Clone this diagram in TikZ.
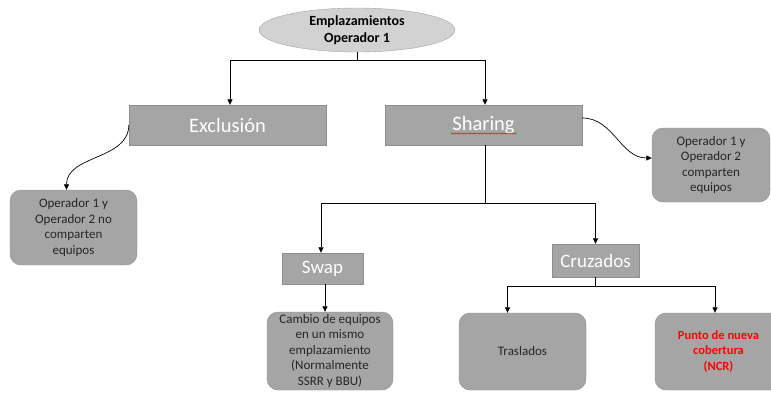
\documentclass[tikz,border=0pt]{standalone}
\usepackage{fontspec}
\setmainfont{Carlito}
\usetikzlibrary{shapes.geometric,arrows.meta,decorations.pathmorphing}
\definecolor{boxfill}{HTML}{A5A5A5}
\definecolor{boxline}{HTML}{8E8E8E}
\definecolor{rootfill}{HTML}{D2D2D2}
\definecolor{rootline}{HTML}{A3A3A3}
\definecolor{leaftext}{HTML}{262626}

\begin{document}
\begin{tikzpicture}[x=1pt,y=-1pt,
    arr/.style={-{Triangle[length=5.5pt,width=5pt]}, line width=0.7pt},
    link/.style={line width=0.7pt},
    title/.style={rectangle, draw=boxline, fill=boxfill, text=white, inner sep=0pt},
    leaf/.style={rectangle, rounded corners=11pt, draw=boxline, fill=boxfill, text=leaftext,
        align=center, inner sep=0pt, font=\fontsize{13}{15.5}\selectfont}]
    \useasboundingbox (0,0) rectangle (771,392);
    \clip (0,0) rectangle (771,392);

    % root
    \node[ellipse, draw=rootline, fill=rootfill, minimum width=196pt, minimum height=44pt,
        inner sep=0pt, align=center, font=\bfseries\fontsize{14}{16.5}\selectfont]
        (root) at (357,30) {Emplazamientos\\Operador 1};

    % first level
    \node[title, minimum width=197pt, minimum height=40pt, font=\fontsize{20.5}{24}\selectfont]
        (excl) at (227.5,125) {Exclusión};
    \node[title, minimum width=197pt, minimum height=40pt, font=\fontsize{20.5}{24}\selectfont]
        (shar) at (483.5,125) {Sharing};
    \draw[red, line width=0.4pt, decorate, decoration={snake, amplitude=0.6pt, segment length=2.2pt}]
        (451,133.5) -- (517,133.5);

    \node[leaf, minimum width=127pt, minimum height=75pt] (nocomp) at (73.5,227.5)
        {Operador 1 y\\Operador 2 no\\comparten\\equipos};
    \node[leaf, minimum width=118pt, minimum height=74pt] (comp) at (711,165)
        {Operador 1 y\\Operador 2\\comparten\\equipos};

    % second level
    \node[title, minimum width=81pt, minimum height=31pt, font=\fontsize{19}{22}\selectfont]
        (swap) at (322.5,268.5) {Swap};
    \node[title, minimum width=87pt, minimum height=33pt, font=\fontsize{19}{22}\selectfont]
        (cruz) at (595.5,260.5) {Cruzados};

    \node[leaf, minimum width=126pt, minimum height=78pt] (cambio) at (330,351)
        {Cambio de equipos\\en un mismo\\emplazamiento\\(Normalmente\\SSRR y BBU)};
    \node[leaf, minimum width=127pt, minimum height=77pt] (trasl) at (522.5,351.5) {Traslados};
    \node[leaf, minimum width=127pt, minimum height=77pt, text=red,
        font=\bfseries\fontsize{12.5}{15.5}\selectfont] (ncr) at (718.5,351.5)
        {Punto de nueva\\cobertura\\(NCR)};

    % connectors
    \coordinate (j1) at (357,60);
    \draw[link] (root.south) -- (j1);
    \draw[arr] (j1) -| ([xshift=2.5pt]excl.north);
    \draw[arr] (j1) -| ([xshift=1.5pt]shar.north);

    \draw[arr] (excl.west) to[out=-90,in=90] ([xshift=-7pt]nocomp.north);
    \draw[arr] ([yshift=7pt]shar.east) to[out=0,in=180] ([yshift=7pt]comp.west);

    \coordinate (j2) at (485,203);
    \draw[link] ([xshift=1.5pt]shar.south) -- (j2);
    \draw[arr] (j2) -| ([xshift=-1.5pt]swap.north);
    \draw[arr] (j2) -| (cruz.north);
    \draw[arr] ([xshift=2.5pt]swap.south) -- ([xshift=2.5pt]swap.south |- cambio.north);

    \coordinate (j3) at (595.5,286);
    \draw[link] (cruz.south) -- (j3);
    \draw[arr] (j3) -| ([xshift=-15pt]trasl.north);
    \draw[arr] (j3) -| ([xshift=-3.5pt]ncr.north);
\end{tikzpicture}
\end{document}
